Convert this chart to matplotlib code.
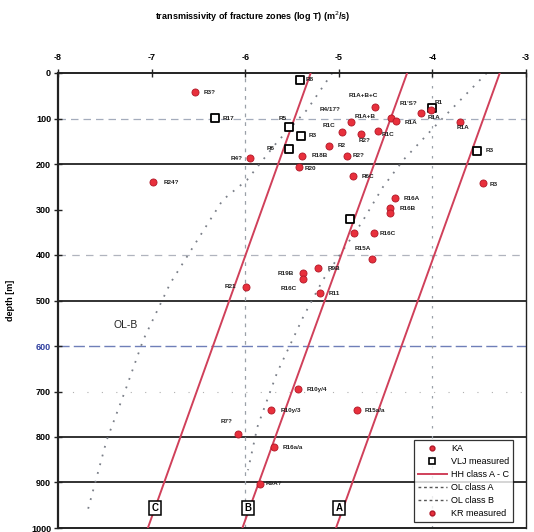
import matplotlib
matplotlib.use("Agg")
import matplotlib.pyplot as plt
from matplotlib.lines import Line2D

plt.rcParams['font.family'] = ['Liberation Sans', 'DejaVu Sans']

# ---------------- data ----------------
x_ticks = [-8, -7, -6, -5, -4, -3]
y_ticks = [0, 100, 200, 300, 400, 500, 600, 700, 800, 900, 1000]

# HH class lines (log T at depth 0 and 1000 m)
hh_depth = [0, 1000]
hh_A = [-3.28, -5.03]
hh_B = [-4.27, -6.03]
hh_C = [-5.30, -7.04]

# OL class curves
olA_logT = [-3.42, -3.49, -3.94, -4.31, -4.53, -4.75, -5.17, -5.38, -5.66, -5.87, -5.97]
olA_depth = [0, 15, 110, 191, 251, 327, 455, 536, 659, 778, 873]
olB_logT = [-5.07, -5.34, -5.66, -5.98, -6.24, -6.51, -6.80, -7.09, -7.28, -7.48, -7.69]
olB_depth = [0, 81, 152, 235, 279, 367, 462, 587, 697, 807, 967]

# KR measured points
kr_logT = [-6.54, -6.99, -5.95, -5.39, -5.43, -5.10, -4.91, -4.97, -4.76, -4.87,
           -4.61, -4.58, -4.44, -4.39, -4.12, -4.01, -3.71, -3.46, -4.85, -4.40,
           -4.45, -4.45, -4.84, -4.62, -4.65, -5.22, -5.38, -5.38, -5.99, -5.20,
           -5.44, -5.72, -4.81, -6.08, -5.69, -5.84]
kr_depth = [42, 240, 187, 182, 207, 160, 182, 130, 134, 108,
            75, 127, 99, 106, 88, 81, 108, 242, 226, 275,
            297, 308, 352, 352, 409, 429, 440, 453, 470, 484,
            695, 741, 741, 793, 822, 903]
kr_labels = ["R3?", "R24?", "R4?", "R18B", "R20", "R2", "R2?", "R1C", "R2?", "R1A+B",
             "R1A+B+C", "R1C", "", "R1A", "R1'S?", "R1A", "R1A", "R3", "R6C", "R16A",
             "R16B", "", "", "R16C", "R15A", "R9B", "R19B", "R16C", "R21", "R11",
             "R10y/4", "R10y/3", "R15a/a", "R7?", "R16a/a", "R9A?"]

# VLJ measured points
vlj_logT = [-5.41, -6.32, -5.53, -5.40, -5.53, -4.00, -3.52, -4.88]
vlj_depth = [15, 99, 119, 138, 167, 77, 171, 321]
vlj_labels = ["R8", "R17", "R5", "R3", "R6", "R1", "R3", ""]

# label offsets in pixels (dx right, dy down) and alignment
kr_offsets = {0: (9, 0), 1: (11, 0), 2: (-7, 0, 'right'), 3: (9, 0), 4: (6, 1),
              5: (8, 0), 6: (5, 0), 7: (-6, -7, 'right'), 8: (-3, 7), 9: (4, -6),
              10: (-27, -12), 11: (4, 4), 13: (9, 1), 14: (-4, -10, 'right'),
              15: (-4, 8), 16: (-3, 5), 17: (7, 1), 18: (9, 1), 19: (9, 0),
              20: (9, 0), 23: (5, 0), 24: (-17, -11), 25: (9, 0), 26: (-9, 0, 'right'),
              27: (-6, 9, 'right'), 28: (-10, 0, 'right'), 29: (9, 0), 30: (9, 0),
              31: (9, 0), 32: (8, 0), 33: (-5, -12, 'right'), 34: (8, 0), 35: (5, 0)}
vlj_offsets = {0: (5, 0), 1: (7, 0), 2: (-2, -9, 'right'), 3: (7, 0),
               4: (-15, 0, 'right'), 5: (2, -6), 6: (8, 0)}

# ---------------- figure ----------------
fig = plt.figure(figsize=(5.34, 5.32), dpi=100)
ax = fig.add_axes([58 / 534, 1 - 528 / 532, 468 / 534, 455 / 532])
ax.set_xlim(-8, -3)
ax.set_ylim(1000, 0)

red_line = '#d0405a'
red_pt = '#e8303c'

# horizontal reference lines
for d in [200, 500, 800, 900]:
    ax.axhline(d, color='#222222', lw=1.3, zorder=1)
ax.axhline(100, color='#a4acbc', lw=0.9, ls=(0, (6, 4)), zorder=1)
ax.axhline(400, color='#b0b4be', lw=0.9, ls=(0, (6, 5)), zorder=1)
ax.axhline(600, color='#6f7fb8', lw=1.0, ls=(0, (8, 3)), zorder=1)
ax.axhline(700, color='#b0b0b0', lw=0.8, ls=(0, (1, 12)), zorder=1)
# vertical reference lines
ax.axvline(-6, color='#9aa0a8', lw=0.9, ls=(0, (3, 4)), zorder=1)
ax.axvline(-4, color='#9aa0a8', lw=0.9, ls=(0, (2, 6)), zorder=1)

# OL curves
ax.plot(olA_logT, olA_depth, color='#7a7f88', lw=1.3, ls=(0, (1, 4)), zorder=2)
ax.plot(olB_logT, olB_depth, color='#7a7f88', lw=1.3, ls=(0, (1, 4)), zorder=2)

# HH lines
for vals in (hh_A, hh_B, hh_C):
    ax.plot(vals, hh_depth, color=red_line, lw=1.4, zorder=3)

# points
ax.scatter(vlj_logT, vlj_depth, marker='s', s=40, facecolor='white',
           edgecolor='black', linewidths=1.3, zorder=4)
ax.scatter(kr_logT, kr_depth, marker='o', s=26, facecolor=red_pt,
           edgecolor='#b01828', linewidths=0.6, zorder=5)


def put_labels(xs, ys, labels, offsets):
    for i, (x, y, lab) in enumerate(zip(xs, ys, labels)):
        if not lab or i not in offsets:
            continue
        o = offsets[i]
        ha = o[2] if len(o) > 2 else 'left'
        ax.annotate(lab, (x, y), xytext=(o[0], -o[1]), textcoords='offset pixels',
                    ha=ha, va='center', fontsize=4.6, fontweight='bold',
                    color='#222222', zorder=6)


put_labels(kr_logT, kr_depth, kr_labels, kr_offsets)
put_labels(vlj_logT, vlj_depth, vlj_labels, vlj_offsets)
ax.text(-5.20, 81, "R4/17?", fontsize=4.6, fontweight='bold', color='#222222',
        va='center', ha='left')

# annotations
ax.text(-7.28, 554, "OL-B", fontsize=7.5, color='#222222', ha='center', va='center')
for lab, xv in (("C", -6.96), ("B", -5.97), ("A", -5.0)):
    ax.text(xv, 956, lab, fontsize=7, fontweight='bold', ha='center', va='center',
            bbox=dict(boxstyle='square,pad=0.25', facecolor='white',
                      edgecolor='black', lw=1.1), zorder=7)

# axes styling
for s in ax.spines.values():
    s.set_color('#222222')
ax.spines['left'].set_linewidth(1.6)
ax.spines['top'].set_linewidth(1.4)
ax.spines['bottom'].set_linewidth(1.4)
ax.spines['right'].set_linewidth(1.0)

ax.xaxis.tick_top()
ax.set_xticks(x_ticks)
ax.set_xticklabels([str(v) for v in x_ticks], fontsize=6.5, fontweight='bold')
ax.set_yticks(y_ticks)
ax.set_yticklabels([str(v) for v in y_ticks], fontsize=6.5, fontweight='bold')
ax.tick_params(axis='x', direction='inout', length=6, width=1.0, color='#222222',
               pad=5)
ax.tick_params(axis='y', direction='inout', length=6, width=1.0, color='#222222',
               pad=2)
ax.get_yticklabels()[6].set_color('#3040a0')

fig.text(253 / 534, 1 - 17 / 532, "transmissivity of fracture zones (log T) (m$^2$/s)",
         ha='center', va='center', fontsize=6.5, fontweight='bold')
fig.text(11 / 534, 1 - 300 / 532, "depth [m]", rotation=90, ha='center', va='center',
         fontsize=6.5, fontweight='bold')

# legend
handles = [
    Line2D([], [], marker='o', ls='none', markersize=3.5, markerfacecolor=red_pt,
           markeredgecolor='#b01828'),
    Line2D([], [], marker='s', ls='none', markersize=5, markerfacecolor='white',
           markeredgecolor='black', markeredgewidth=1.2),
    Line2D([], [], color=red_line, lw=1.4),
    Line2D([], [], color='#555555', lw=1.0, ls=(0, (2, 2))),
    Line2D([], [], color='#555555', lw=1.0, ls=(0, (2, 2))),
    Line2D([], [], marker='o', ls='none', markersize=3.5, markerfacecolor=red_pt,
           markeredgecolor='#b01828'),
]
labels = ["KA", "VLJ measured", "HH class A - C", "OL class A", "OL class B",
          "KR measured"]
leg = ax.legend(handles, labels, loc='lower right', bbox_to_anchor=(0.982, 0.004),
                fontsize=6.5, frameon=True, fancybox=False, borderpad=0.4,
                handlelength=3.2, labelspacing=0.45, handletextpad=0.5)
leg.get_frame().set_edgecolor('black')
leg.get_frame().set_linewidth(0.9)
leg.set_zorder(8)

fig.savefig("out.png", dpi=100)
